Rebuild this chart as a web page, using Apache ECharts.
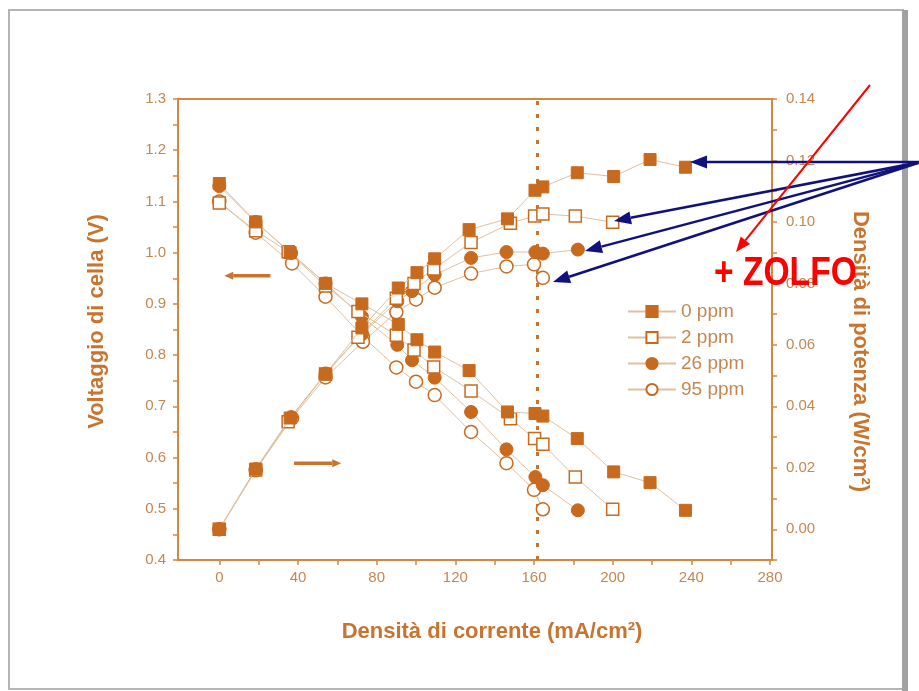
<!DOCTYPE html>
<html>
<head>
<meta charset="utf-8">
<script src="https://cdn.jsdelivr.net/npm/echarts@6/dist/echarts.min.js"></script>
<style>
html,body{margin:0;padding:0;background:#fff}
#chart{width:919px;height:691px}
</style>
</head>
<body>
<div id="chart"></div>
<script>
// legend names
var seriesNames = ['0 ppm', '2 ppm', '26 ppm', '95 ppm'];

// densità di corrente (mA/cm2) per serie
var current0  = [0, 18.5, 36, 54, 72.5, 91, 100.5, 109.5, 127, 146.5, 160.5, 164.5, 182, 200.5, 219, 237];
var current2  = [0, 18.5, 35, 54, 70.5, 90, 99, 109, 128, 148, 160.3, 164.5, 181, 200];
var current26 = [0, 18.5, 36.5, 54, 72.5, 90.5, 98, 109.5, 128, 146, 160.7, 164.5, 182.3];
var current95 = [0, 18.5, 37, 54, 73, 90, 100, 109.5, 128, 146, 160, 164.5];

// voltaggio di cella (V)
var volt0  = [1.135, 1.06, 1.0, 0.94, 0.90, 0.86, 0.83, 0.806, 0.77, 0.689, 0.686, 0.681, 0.637, 0.572, 0.551, 0.497];
var volt2  = [1.097, 1.043, 1.002, 0.935, 0.885, 0.839, 0.81, 0.777, 0.73, 0.676, 0.637, 0.626, 0.562, 0.499];
var volt26 = [1.13, 1.06, 0.999, 0.94, 0.875, 0.82, 0.79, 0.756, 0.689, 0.616, 0.562, 0.546, 0.497];
var volt95 = [1.10, 1.039, 0.979, 0.914, 0.836, 0.776, 0.748, 0.722, 0.65, 0.589, 0.537, 0.499];

// densità di potenza (W/cm2)
var power0  = [0, 0.0196, 0.0362, 0.0505, 0.0655, 0.0785, 0.0835, 0.088, 0.0975, 0.101, 0.1103, 0.1114, 0.116, 0.1148, 0.1203, 0.1178];
var power2  = [0, 0.0193, 0.035, 0.0505, 0.0625, 0.0752, 0.080, 0.0847, 0.0933, 0.0996, 0.1019, 0.1026, 0.1019, 0.0999];
var power26 = [0, 0.0196, 0.0365, 0.0507, 0.0635, 0.0742, 0.0775, 0.0828, 0.0883, 0.0902, 0.0902, 0.0897, 0.091];
var power95 = [0, 0.0192, 0.0362, 0.0494, 0.061, 0.0706, 0.0748, 0.0786, 0.0832, 0.0855, 0.0862, 0.0818];

// tick values
var xLabels = [0, 40, 80, 120, 160, 200, 240, 280];
var xTicks = [0, 20, 40, 60, 80, 100, 120, 140, 160, 180, 200, 220, 240, 260, 280];
var vLabels = [0.4, 0.5, 0.6, 0.7, 0.8, 0.9, 1.0, 1.1, 1.2, 1.3];
var vTicks = [0.4, 0.45, 0.5, 0.55, 0.6, 0.65, 0.7, 0.75, 0.8, 0.85, 0.9, 0.95, 1.0, 1.05, 1.1, 1.15, 1.2, 1.25, 1.3];
var pLabels = [0, 0.02, 0.04, 0.06, 0.08, 0.10, 0.12, 0.14];
var pTicks = [-0.01, 0, 0.01, 0.02, 0.03, 0.04, 0.05, 0.06, 0.07, 0.08, 0.09, 0.10, 0.11, 0.12, 0.13, 0.14];

var dottedAt = 161.5; // linea tratteggiata verticale

var orange = '#c86a1e';
var axisCol = '#d4873f';
var labelCol = '#c4874f';
var titleCol = '#c8742e';
var linkCol = '#e0c0a0';
var font = 'Liberation Sans, Arial, sans-serif';

function pairs(xs, ys) {
    return xs.map(function (x, i) { return [x, ys[i]]; });
}

var currents = [current0, current2, current26, current95];
var volts = [volt0, volt2, volt26, volt95];
var powers = [power0, power2, power26, power95];
var symbols = ['rect', 'rect', 'circle', 'circle'];
var filled = [true, false, true, false];

var series = [];
for (var k = 0; k < 4; k++) {
    var style = filled[k]
        ? {color: orange, borderColor: orange, borderWidth: 1}
        : {color: '#fff', borderColor: orange, borderWidth: 1.5};
    series.push({
        name: seriesNames[k], type: 'line', yAxisIndex: 0,
        data: pairs(currents[k], volts[k]),
        symbol: symbols[k], symbolSize: k < 2 ? 12 : 13,
        lineStyle: {color: linkCol, width: 1},
        itemStyle: style, z: 10 - k
    });
    series.push({
        name: seriesNames[k], type: 'line', yAxisIndex: 1,
        data: pairs(currents[k], powers[k]),
        symbol: symbols[k], symbolSize: k < 2 ? 12 : 13,
        lineStyle: {color: linkCol, width: 1},
        itemStyle: style, z: 10 - k
    });
}
series[0].markLine = {
    silent: true, symbol: 'none', label: {show: false},
    lineStyle: {color: titleCol, type: [4, 9], width: 3},
    data: [{xAxis: dottedAt}]
};

var myChart = echarts.init(document.getElementById('chart'));
var option = {
    animation: false,
    backgroundColor: '#fff',
    grid: {
        left: 178, right: 147, top: 99, bottom: 131,
        show: true, borderColor: axisCol, borderWidth: 2
    },
    legend: {
        data: seriesNames,
        orient: 'vertical',
        left: 622, top: 297,
        itemWidth: 48, itemHeight: 14, itemGap: 7,
        textStyle: {color: labelCol, fontSize: 19, fontFamily: font}
    },
    xAxis: {
        type: 'value', min: -21, max: 281,
        name: 'Densità di corrente (mA/cm²)',
        nameLocation: 'middle', nameGap: 61,
        nameTextStyle: {color: titleCol, fontSize: 22, fontWeight: 'bold', fontFamily: font, padding: [0, 0, 0, 34]},
        axisLine: {onZero: false, lineStyle: {color: axisCol, width: 2}},
        axisTick: {show: true, length: 5, lineStyle: {color: axisCol, width: 1.5}, customValues: xTicks},
        axisLabel: {color: labelCol, fontSize: 15, margin: 10, customValues: xLabels, fontFamily: font},
        splitLine: {show: false}
    },
    yAxis: [{
        type: 'value', min: 0.4, max: 1.3, position: 'left',
        name: 'Voltaggio di cella (V)',
        nameLocation: 'middle', nameGap: 70, nameRotate: 90,
        nameTextStyle: {color: titleCol, fontSize: 22, fontWeight: 'bold', fontFamily: font, padding: [0, 0, 0, 16]},
        axisLine: {show: true, onZero: false, lineStyle: {color: axisCol, width: 2}},
        axisTick: {show: true, length: 5, lineStyle: {color: axisCol, width: 1.5}, customValues: vTicks},
        axisLabel: {color: labelCol, fontSize: 15, margin: 12, customValues: vLabels,
            formatter: function (v) { return v.toFixed(1); }, fontFamily: font},
        splitLine: {show: false}
    }, {
        type: 'value', min: -0.01, max: 0.14, position: 'right',
        name: 'Densità di potenza (W/cm²)',
        nameLocation: 'middle', nameGap: 77, nameRotate: -90,
        nameTextStyle: {color: titleCol, fontSize: 22, fontWeight: 'bold', fontFamily: font, padding: [0, 0, 0, 44]},
        axisLine: {show: true, onZero: false, lineStyle: {color: axisCol, width: 2}},
        axisTick: {show: true, length: 5, lineStyle: {color: axisCol, width: 1.5}, customValues: pTicks},
        axisLabel: {color: labelCol, fontSize: 15, margin: 14, customValues: pLabels,
            formatter: function (v) { return v.toFixed(2); }, fontFamily: font},
        splitLine: {show: false}
    }],
    series: series
};
myChart.setOption(option);

function arrow(x1, y1, x2, y2, color, w, hl, hw) {
    var a = Math.atan2(y2 - y1, x2 - x1);
    var bx = x2 - hl * Math.cos(a), by = y2 - hl * Math.sin(a);
    var px = -Math.sin(a) * hw / 2, py = Math.cos(a) * hw / 2;
    return [
        {type: 'line', z: 200, shape: {x1: x1, y1: y1, x2: bx, y2: by}, style: {stroke: color, lineWidth: w}},
        {type: 'polygon', z: 200, shape: {points: [[x2, y2], [bx + px, by + py], [bx - px, by - py]]}, style: {fill: color}}
    ];
}

// frecce arancioni (asse di riferimento) in coordinate dati
var la1 = myChart.convertToPixel({xAxisIndex: 0, yAxisIndex: 0}, [26, 0.955]);
var la2 = myChart.convertToPixel({xAxisIndex: 0, yAxisIndex: 0}, [2.5, 0.955]);
var ra1 = myChart.convertToPixel({xAxisIndex: 0, yAxisIndex: 1}, [38, 0.0215]);
var ra2 = myChart.convertToPixel({xAxisIndex: 0, yAxisIndex: 1}, [62, 0.0215]);

var g = [];
// cornice della slide
g.push({type: 'rect', z: -10, shape: {x: 9, y: 10, width: 894, height: 679},
    style: {fill: 'none', stroke: '#b4b4b4', lineWidth: 2}});
g.push({type: 'rect', z: -9, shape: {x: 902, y: 10, width: 6, height: 682},
    style: {fill: '#a2a2a2'}});
g = g.concat(arrow(la1[0], la1[1], la2[0], la2[1], titleCol, 3.5, 9, 8));
g = g.concat(arrow(ra1[0], ra1[1], ra2[0], ra2[1], titleCol, 3.5, 9, 8));
// frecce blu verso le curve di potenza
var tips = [[690, 162], [614, 221], [585, 251], [553, 282]];
tips.forEach(function (t) {
    g = g.concat(arrow(921, 162, t[0], t[1], '#10107e', 2.5, 17, 13));
});
g = g.concat(arrow(870, 85, 736, 252, '#ff0000', 2, 15, 12));
g.push({type: 'text', z: 210, x: 714, y: 274, scaleX: 0.84,
    style: {text: '+ ZOLFO', fill: '#ff0000', font: 'bold 40px ' + font,
        verticalAlign: 'middle', align: 'left'}});
myChart.setOption({graphic: g});
</script>
</body>
</html>
